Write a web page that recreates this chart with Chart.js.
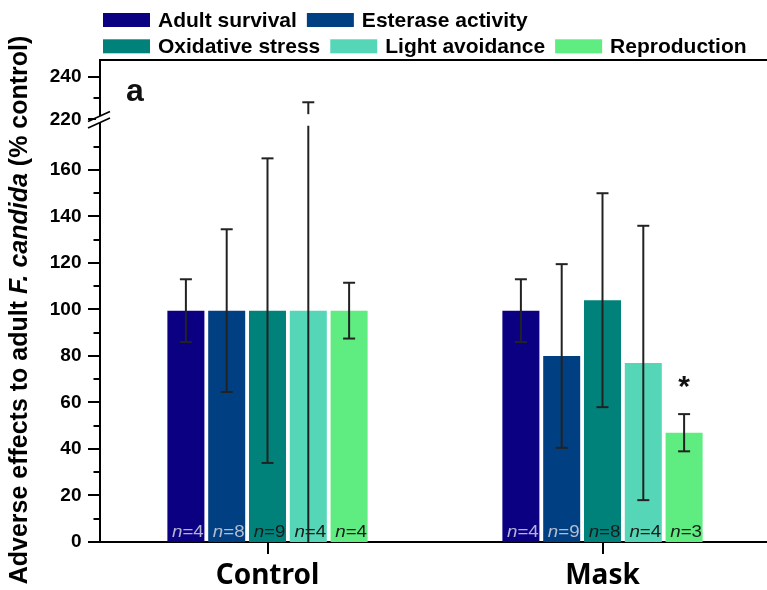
<!DOCTYPE html>
<html><head><meta charset="utf-8">
<script src="https://cdn.jsdelivr.net/npm/chart.js@4"></script>
<style>html,body{margin:0;padding:0;overflow:hidden;background:#fff}#wrap{width:770px;height:590px;position:relative}</style>
</head><body><div id="wrap"><canvas id="c"></canvas></div>
<script>
// ---- data ----
const categories = ['Control', 'Mask'];
const seriesNames = ['Adult survival', 'Esterase activity', 'Oxidative stress', 'Light avoidance', 'Reproduction'];
const adultSurvival = [99.5, 99.5];
const esteraseActivity = [99.5, 80];
const oxidativeStress = [99.5, 104];
const lightAvoidance = [99.5, 77];
const reproduction = [99.5, 47];
const adultSurvivalSD = [13.5, 13.5];
const esteraseActivitySD = [35, 39.5];
const oxidativeStressSD = [65.5, 46];
const lightAvoidanceSD = [128.5, 59];
const reproductionSD = [12, 8];
const adultSurvivalN = [4, 4];
const esteraseActivityN = [8, 9];
const oxidativeStressN = [9, 8];
const lightAvoidanceN = [4, 4];
const reproductionN = [4, 3];
const reproductionSig = ['', '*'];
const majorTickValues = [0, 20, 40, 60, 80, 100, 120, 140, 160, 220, 240];
const minorTickValues = [10, 30, 50, 70, 90, 110, 130, 150, 170, 230];
const yTickLabels = ['0', '20', '40', '60', '80', '100', '120', '140', '160', '220', '240'];

const seriesMeans = [adultSurvival, esteraseActivity, oxidativeStress, lightAvoidance, reproduction];
const seriesSD = [adultSurvivalSD, esteraseActivitySD, oxidativeStressSD, lightAvoidanceSD, reproductionSD];
const seriesN = [adultSurvivalN, esteraseActivityN, oxidativeStressN, lightAvoidanceN, reproductionN];
const seriesSig = [['', ''], ['', ''], ['', ''], ['', ''], reproductionSig];
const colors = ['#0c0082', '#004082', '#00827a', '#55d6b7', '#5fec80'];
const nColors = ['rgba(190,190,215,0.95)', 'rgba(190,195,210,0.95)', '#1a1a1a', '#1a1a1a', '#1a1a1a'];

// broken axis: values above the break are compressed
const D220 = 181.8, UPPER_K = 0.915;
function tr(v) { return v <= 200 ? v : D220 + (v - 220) * UPPER_K; }

const FONT = '"Liberation Sans", Arial, sans-serif';
Chart.defaults.font.family = FONT;

function line(ctx, x1, y1, x2, y2) { ctx.beginPath(); ctx.moveTo(x1, y1); ctx.lineTo(x2, y2); ctx.stroke(); }

const deco = {
  id: 'deco',
  afterDatasetsDraw(chart) {
    const ctx = chart.ctx, ys = chart.scales.y, ca = chart.chartArea;
    ctx.save();
    chart.data.datasets.forEach((ds, i) => {
      const meta = chart.getDatasetMeta(i);
      meta.data.forEach((bar, j) => {
        const m = seriesMeans[i][j], s = seriesSD[i][j];
        const hi = m + s, lo = m - s;
        const yHi = ys.getPixelForValue(tr(hi));
        const yLo = lo > 0 ? ys.getPixelForValue(tr(lo)) : ca.bottom;
        // n label
        ctx.save();
        ctx.translate(bar.x + 2, ca.bottom - 5);
        ctx.scale(1.1, 1);
        ctx.fillStyle = nColors[i];
        ctx.textBaseline = 'alphabetic';
        ctx.font = 'italic 17px ' + FONT;
        const w1 = ctx.measureText('n').width;
        ctx.font = '17px ' + FONT;
        const t2 = '=' + seriesN[i][j];
        const w2 = ctx.measureText(t2).width;
        const x0 = -(w1 + w2) / 2;
        ctx.font = 'italic 17px ' + FONT;
        ctx.fillText('n', x0, 0);
        ctx.font = '17px ' + FONT;
        ctx.fillText(t2, x0 + w1, 0);
        ctx.restore();
        // error bar
        ctx.strokeStyle = '#222';
        ctx.lineWidth = 2;
        if (hi > 200) {
          const g1 = ys.getPixelForValue(184), g2 = ys.getPixelForValue(179);
          line(ctx, bar.x, yHi, bar.x, g1);
          line(ctx, bar.x, g2, bar.x, yLo);
        } else {
          line(ctx, bar.x, yHi, bar.x, yLo);
        }
        line(ctx, bar.x - 6, yHi, bar.x + 6, yHi);
        if (lo > 0) line(ctx, bar.x - 6, yLo, bar.x + 6, yLo);
        // significance
        if (seriesSig[i][j]) {
          ctx.fillStyle = '#111';
          ctx.font = 'bold 30px ' + FONT;
          ctx.textAlign = 'center';
          ctx.textBaseline = 'alphabetic';
          ctx.fillText(seriesSig[i][j], bar.x, yHi - 18);
          ctx.textAlign = 'left';
        }
      });
    });
    ctx.restore();
  },
  afterDraw(chart) {
    const ctx = chart.ctx, ys = chart.scales.y, xs = chart.scales.x, ca = chart.chartArea;
    ctx.save();
    ctx.strokeStyle = '#000';
    ctx.lineWidth = 2;
    // top frame line
    line(ctx, ca.left - 1, ca.top, ca.right, ca.top);
    // y ticks
    majorTickValues.forEach(v => { const p = Math.round(ys.getPixelForValue(tr(v))); line(ctx, ca.left - 12, p, ca.left, p); });
    minorTickValues.forEach(v => { const p = Math.round(ys.getPixelForValue(tr(v))); line(ctx, ca.left - 6.5, p, ca.left, p); });
    // x ticks at category centres
    categories.forEach((c, j) => { const p = Math.round(xs.getPixelForValue(j)); line(ctx, p, ca.bottom, p, ca.bottom + 12); });
    // axis break marks
    const by = ys.getPixelForValue(180);
    const ax = ca.left;
    ctx.fillStyle = '#fff';
    ctx.beginPath();
    ctx.moveTo(ax - 4, by - 5.5); ctx.lineTo(ax + 4, by - 9); ctx.lineTo(ax + 4, by - 2.5); ctx.lineTo(ax - 4, by + 1);
    ctx.closePath(); ctx.fill();
    ctx.lineWidth = 1.6;
    line(ctx, ax - 12, by - 2, ax + 10, by - 12);
    line(ctx, ax - 12, by + 4.5, ax + 10, by - 5.5);
    // panel letter
    ctx.fillStyle = '#111';
    ctx.font = 'bold 32px ' + FONT;
    ctx.textBaseline = 'alphabetic';
    ctx.fillText('a', 126, 101);
    // legend
    const rows = [[0, 1], [2, 3, 4]];
    const rowY = [20, 46.3];
    ctx.font = 'bold 21px ' + FONT;
    ctx.textBaseline = 'middle';
    rows.forEach((r, ri) => {
      let xx = 103;
      r.forEach(i => {
        ctx.fillStyle = colors[i];
        ctx.fillRect(xx, rowY[ri] - 7, 47, 14);
        xx += 47 + 8;
        ctx.fillStyle = '#000';
        ctx.fillText(seriesNames[i], xx, rowY[ri] + 1);
        xx += ctx.measureText(seriesNames[i]).width + 10;
      });
    });
    // y title
    ctx.translate(20, 310);
    ctx.rotate(-Math.PI / 2);
    const parts = [
      { t: 'Adverse effects to adult ', f: 'bold 25px ' + FONT },
      { t: 'F. candida', f: 'italic bold 25px ' + FONT },
      { t: ' (% control)', f: 'bold 25px ' + FONT }
    ];
    let tot = 0;
    parts.forEach(p => { ctx.font = p.f; p.w = ctx.measureText(p.t).width; tot += p.w; });
    let px = -tot / 2;
    ctx.fillStyle = '#000';
    ctx.textBaseline = 'middle';
    parts.forEach(p => { ctx.font = p.f; ctx.fillText(p.t, px, 0); px += p.w; });
    ctx.restore();
  }
};

new Chart(document.getElementById('c'), {
  type: 'bar',
  data: {
    labels: categories,
    datasets: seriesNames.map((name, i) => ({
      label: name,
      data: seriesMeans[i].map(tr),
      backgroundColor: colors[i],
      borderWidth: 0,
      barPercentage: 0.907,
      categoryPercentage: 0.609
    }))
  },
  options: {
    responsive: true,
    maintainAspectRatio: false,
    animation: false,
    devicePixelRatio: 1,
    layout: { padding: { top: 60, left: 0, right: 0, bottom: 0 } },
    plugins: { legend: { display: false }, tooltip: { enabled: false } },
    scales: {
      x: {
        type: 'category',
        offset: true,
        grid: { display: false, drawTicks: true, tickLength: 12 },
        border: { display: true, color: '#000', width: 2 },
        ticks: { color: '#000', padding: 5, font: { family: '"Noto Sans", sans-serif', size: 28, weight: 'bold' } },
        afterFit(s) { s.height = 48; }
      },
      y: {
        type: 'linear',
        min: 0,
        max: 207.3,
        grid: { display: false, drawTicks: true, tickLength: 12 },
        border: { display: true, color: '#000', width: 2 },
        afterBuildTicks(s) { s.ticks = majorTickValues.map(v => ({ value: tr(v) })); },
        ticks: {
          autoSkip: false,
          color: '#000',
          padding: 6.5,
          font: { size: 19, weight: 'bold' },
          callback: (value, index) => yTickLabels[index]
        },
        afterFit(s) { s.width = 100; }
      }
    }
  },
  plugins: [deco]
});
</script>
</body></html>
